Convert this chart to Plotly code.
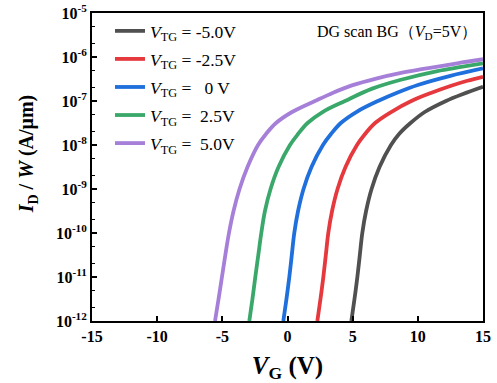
import plotly.graph_objects as go

# Data (V_G in volts, I_D/W in A/um)
legend_labels = ["<i>V</i><sub>TG</sub> = -5.0V", "<i>V</i><sub>TG</sub> = -2.5V",
                 "<i>V</i><sub>TG</sub> =   0 V", "<i>V</i><sub>TG</sub> =  2.5V",
                 "<i>V</i><sub>TG</sub> =  5.0V"]
colors = ["#505050", "#e5393e", "#1f6fdc", "#3ba86b", "#a67fd9"]

id_sub = [1e-12, 3.16e-12, 1e-11, 3.16e-11, 1e-10, 3.16e-10, 1e-9, 3.16e-9,
          1e-8, 1.78e-8, 3.16e-8, 5.62e-8, 1e-7]

vg_m50 = [4.90, 5.14, 5.36, 5.55, 5.74, 6.03, 6.45, 7.06, 7.94, 8.56, 9.44, 10.53, 12.16, 13.47, 15.0]
id_m50 = id_sub + [1.44e-7, 2.1e-7]

vg_m25 = [2.29, 2.53, 2.75, 2.94, 3.13, 3.42, 3.84, 4.45, 5.33, 5.95, 6.72, 7.95, 9.50, 11.0, 12.5, 13.8, 15.0]
id_m25 = id_sub + [1.52e-7, 2.19e-7, 2.88e-7, 3.56e-7]

vg_0 = [-0.32, -0.08, 0.14, 0.33, 0.52, 0.81, 1.23, 1.84, 2.72, 3.34, 4.09, 5.28, 6.94, 8.5, 10.0, 12.5, 15.0]
id_0 = id_sub + [1.58e-7, 2.31e-7, 3.73e-7, 5.5e-7]

vg_25 = [-2.93, -2.69, -2.47, -2.24, -2.01, -1.73, -1.30, -0.69, 0.19, 0.81, 1.54, 2.69, 4.41, 6.5, 8.63, 11.5, 13.2, 15.0]
id_25 = id_sub + [1.91e-7, 3.0e-7, 4.8e-7, 5.86e-7, 7.2e-7]

vg_50 = [-5.56, -5.29, -5.03, -4.77, -4.49, -4.14, -3.68, -3.07, -2.26, -1.65, -0.88, 0.35, 2.11,
         3.5, 5.0, 6.8, 8.63, 10.3, 12.0, 13.5, 15.0]
id_50 = id_sub + [1.55e-7, 2.3e-7, 3.24e-7, 4.3e-7, 5.28e-7, 6.4e-7, 7.6e-7, 8.9e-7]

series_vg = [vg_m50, vg_m25, vg_0, vg_25, vg_50]
series_id = [id_m50, id_m25, id_0, id_25, id_50]

x_ticks = [-15, -10, -5, 0, 5, 10, 15]
y_ticks = [1e-12, 1e-11, 1e-10, 1e-9, 1e-8, 1e-7, 1e-6, 1e-5]
y_ticktext = ["10<sup>-12</sup>", "10<sup>-11</sup>", "10<sup>-10</sup>", "10<sup>-9</sup>",
              "10<sup>-8</sup>", "10<sup>-7</sup>", "10<sup>-6</sup>", "10<sup>-5</sup>"]

serif = "Liberation Serif"

fig = go.Figure()
for i, (vg, idw, lab, col) in enumerate(zip(series_vg, series_id, legend_labels, colors)):
    fig.add_trace(go.Scatter(x=vg, y=idw, mode="lines", name=lab, legendgroup=f"g{i}",
                             line=dict(color=col, width=3.8, shape="spline", smoothing=1.0)))

fig.update_layout(
    width=497, height=383,
    margin=dict(l=92, r=14, t=13, b=62, autoexpand=False),
    paper_bgcolor="white", plot_bgcolor="white",
    font=dict(family=serif, color="black"),
    showlegend=True,
    legend=dict(x=0.046, y=1.0, xanchor="left", yanchor="top",
                font=dict(family=serif, size=17.5, color="black"),
                bgcolor="rgba(0,0,0,0)", tracegroupgap=2.3, itemwidth=30),
    annotations=[
        dict(x=0.99, y=0.975, xref="paper", yref="paper", xanchor="right", yanchor="top",
             text="DG scan BG\uff08<i>V</i><sub>D</sub>=5V\uff09", showarrow=False,
             font=dict(family=serif, size=16, color="black")),
        dict(x=-0.164, y=0.544, xref="paper", yref="paper", xanchor="center", yanchor="middle",
             text="<b><i>I</i><sub>D</sub> / <i>W</i> (A/\u03bcm)</b>", textangle=-90, showarrow=False,
             font=dict(family=serif, size=20, color="black")),
    ],
)
fig.update_xaxes(range=[-15, 15], tickvals=x_ticks,
                 ticktext=[f"<b>{t}</b>" for t in x_ticks],
                 ticks="inside", ticklen=5, tickwidth=2, tickcolor="black",
                 showline=True, linewidth=2, linecolor="black", mirror=True,
                 showgrid=False, zeroline=False, automargin=False,
                 tickfont=dict(family=serif, size=16, color="black"),
                 title=dict(text="<b><i>V</i><sub>G</sub> (V)</b>", standoff=12,
                            font=dict(family=serif, size=25, color="black")))
fig.update_yaxes(type="log", range=[-12, -5], tickvals=y_ticks,
                 ticktext=[f"<b>{t}</b>" for t in y_ticktext],
                 ticks="inside", ticklen=5, tickwidth=2, tickcolor="black",
                 minor=dict(ticks="inside", ticklen=3, tickwidth=1, tickcolor="black", showgrid=False),
                 showline=True, linewidth=2, linecolor="black", mirror=True,
                 showgrid=False, zeroline=False, automargin=False,
                 tickfont=dict(family=serif, size=16, color="black"))

fig.write_html("out.html", config={"displayModeBar": False},
               post_script="document.body.style.margin='0px';")
